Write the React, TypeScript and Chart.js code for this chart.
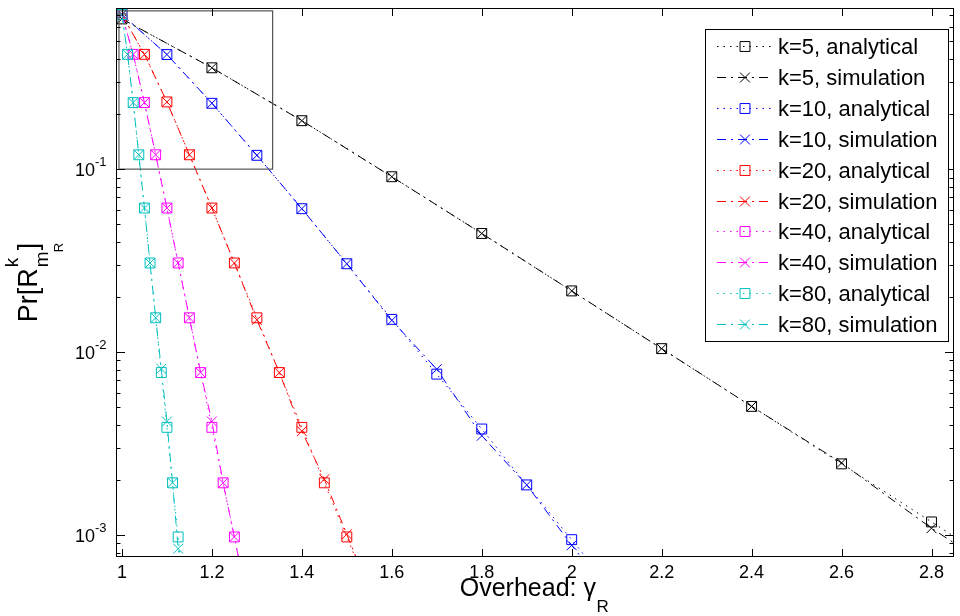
import React, { useEffect, useRef } from 'react';
import { Chart, registerables } from 'chart.js';

Chart.register(...registerables);

const FONT = '"Liberation Sans", Arial, Helvetica, sans-serif';

// Overhead values (gamma = m / k) and decoding-failure probabilities per k
const gammaK5 = [1.0, 1.2, 1.4, 1.6, 1.8, 2.0, 2.2, 2.4, 2.6, 2.8, 3.0];
const analyticalK5 = [0.662, 0.358, 0.184, 0.0909, 0.0445, 0.0216, 0.01045, 0.00505, 0.00245, 0.00118, 0.00057];
const simulationK5 = [0.662, 0.358, 0.184, 0.0909, 0.0445, 0.0216, 0.01045, 0.00505, 0.00248, 0.00109, 0.00052];

const gammaK10 = [1.0, 1.1, 1.2, 1.3, 1.4, 1.5, 1.6, 1.7, 1.8, 1.9, 2.0, 2.1];
const analyticalK10 = [0.70, 0.423, 0.229, 0.119, 0.0608, 0.0304, 0.0151, 0.00758, 0.0038, 0.00188, 0.000944, 0.00047];
const simulationK10 = [0.70, 0.423, 0.229, 0.119, 0.0608, 0.0304, 0.0149, 0.00807, 0.00349, 0.00188, 0.00088, 0.00043];

const gammaK20 = [1.0, 1.05, 1.1, 1.15, 1.2, 1.25, 1.3, 1.35, 1.4, 1.45, 1.5, 1.55];
const analyticalK20 = [0.70, 0.424, 0.233, 0.1198, 0.0613, 0.0307, 0.0154, 0.00773, 0.00388, 0.00193, 0.000977, 0.00049];
const simulationK20 = [0.70, 0.424, 0.233, 0.1198, 0.0613, 0.0307, 0.0150, 0.00773, 0.0037, 0.00202, 0.00101, 0.0005];

const gammaK40 = [1.0, 1.025, 1.05, 1.075, 1.1, 1.125, 1.15, 1.175, 1.2, 1.225, 1.25, 1.275];
const analyticalK40 = [0.70, 0.424, 0.231, 0.1198, 0.0613, 0.0307, 0.0154, 0.00773, 0.00388, 0.00193, 0.000977, 0.00049];
const simulationK40 = [0.70, 0.424, 0.231, 0.1198, 0.0613, 0.0307, 0.0154, 0.00773, 0.00418, 0.00193, 0.000977, 0.00048];

const gammaK80 = [1.0, 1.0125, 1.025, 1.0375, 1.05, 1.0625, 1.075, 1.0875, 1.1, 1.1125, 1.125, 1.1375];
const analyticalK80 = [0.70, 0.424, 0.231, 0.1198, 0.0613, 0.0307, 0.0154, 0.00773, 0.00388, 0.00193, 0.000977, 0.00049];
const simulationK80 = [0.70, 0.424, 0.231, 0.1198, 0.0613, 0.0307, 0.0154, 0.0081, 0.00418, 0.00193, 0.000843, 0.0004];

const seriesList = [
  { k: 5, color: '#000000', gamma: gammaK5, analytical: analyticalK5, simulation: simulationK5 },
  { k: 10, color: '#0000ff', gamma: gammaK10, analytical: analyticalK10, simulation: simulationK10 },
  { k: 20, color: '#ff0000', gamma: gammaK20, analytical: analyticalK20, simulation: simulationK20 },
  { k: 40, color: '#ff00ff', gamma: gammaK40, analytical: analyticalK40, simulation: simulationK40 },
  { k: 80, color: '#00bfbf', gamma: gammaK80, analytical: analyticalK80, simulation: simulationK80 },
];

// Axes
const X_MIN = 0.9868;
const X_MAX = 2.85;
const Y_MIN = 0.000759;
const Y_MAX = 0.7597;
const xTickValues = [1, 1.2, 1.4, 1.6, 1.8, 2, 2.2, 2.4, 2.6, 2.8];
const xTickLabels = ['1', '1.2', '1.4', '1.6', '1.8', '2', '2.2', '2.4', '2.6', '2.8'];
const yMajorTicks = [1e-3, 1e-2, 1e-1];
const yTickExponents = ['-3', '-2', '-1'];
const yMinorTicks = [
  8e-4, 9e-4,
  2e-3, 3e-3, 4e-3, 5e-3, 6e-3, 7e-3, 8e-3, 9e-3,
  2e-2, 3e-2, 4e-2, 5e-2, 6e-2, 7e-2, 8e-2, 9e-2,
  2e-1, 3e-1, 4e-1, 5e-1, 6e-1, 7e-1,
];

// Magnified region outline (data coordinates)
const zoomBoxX = [0.9934, 1.335];
const zoomBoxY = [0.1, 0.733];

const ANALYTICAL_DASH = [1.5, 5];
const SIMULATION_DASH = [9, 5, 2, 5];

function buildDatasets() {
  const out: any[] = [];
  seriesList.forEach((s) => {
    out.push({
      label: `k=${s.k}, analytical`,
      data: s.gamma.map((g, i) => ({ x: g, y: s.analytical[i] })),
      borderColor: s.color,
      borderWidth: 1,
      borderDash: ANALYTICAL_DASH,
      pointStyle: 'rect',
      pointRadius: 7,
      pointBorderWidth: 1,
      pointBorderColor: s.color,
      pointBackgroundColor: 'rgba(0,0,0,0)',
      fill: false,
      tension: 0,
      clip: 0,
    });
    out.push({
      label: `k=${s.k}, simulation`,
      data: s.gamma.map((g, i) => ({ x: g, y: s.simulation[i] })),
      borderColor: s.color,
      borderWidth: 1,
      borderDash: SIMULATION_DASH,
      pointStyle: 'crossRot',
      pointRadius: 7,
      pointBorderWidth: 1,
      pointBorderColor: s.color,
      pointBackgroundColor: 'rgba(0,0,0,0)',
      fill: false,
      tension: 0,
      clip: 0,
    });
  });
  const n = out.length;
  out.forEach((d, i) => { d.order = n - 1 - i; });
  return out;
}

function drawMarker(ctx: CanvasRenderingContext2D, style: string, x: number, y: number, r: number) {
  const h = r * Math.SQRT1_2;
  ctx.beginPath();
  if (style === 'rect') {
    ctx.rect(x - h, y - h, 2 * h, 2 * h);
  } else {
    ctx.moveTo(x - h, y - h);
    ctx.lineTo(x + h, y + h);
    ctx.moveTo(x + h, y - h);
    ctx.lineTo(x - h, y + h);
  }
  ctx.stroke();
}

const decorations = {
  id: 'decorations',
  afterDraw(chart: any) {
    const { ctx, chartArea: a, scales } = chart;
    const xs = scales.x;
    const ys = scales.y;
    ctx.save();

    // magnified-region outline
    const bx0 = xs.getPixelForValue(zoomBoxX[0]);
    const bx1 = xs.getPixelForValue(zoomBoxX[1]);
    const by0 = ys.getPixelForValue(zoomBoxY[1]);
    const by1 = ys.getPixelForValue(zoomBoxY[0]);
    ctx.strokeStyle = '#555555';
    ctx.lineWidth = 1.2;
    ctx.setLineDash([]);
    ctx.strokeRect(bx0, by0, bx1 - bx0, by1 - by0);

    // axes frame
    ctx.strokeStyle = '#000000';
    ctx.lineWidth = 1;
    ctx.strokeRect(a.left + 0.5, a.top + 0.5, a.right - a.left - 1, a.bottom - a.top - 1);

    // inward tick marks
    ctx.beginPath();
    xTickValues.forEach((v) => {
      const px = Math.round(xs.getPixelForValue(v)) + 0.5;
      ctx.moveTo(px, a.bottom);
      ctx.lineTo(px, a.bottom - 8);
      ctx.moveTo(px, a.top);
      ctx.lineTo(px, a.top + 8);
    });
    yMajorTicks.forEach((v) => {
      const py = Math.round(ys.getPixelForValue(v)) + 0.5;
      ctx.moveTo(a.left, py);
      ctx.lineTo(a.left + 9, py);
      ctx.moveTo(a.right, py);
      ctx.lineTo(a.right - 9, py);
    });
    yMinorTicks.forEach((v) => {
      const py = Math.round(ys.getPixelForValue(v)) + 0.5;
      ctx.moveTo(a.left, py);
      ctx.lineTo(a.left + 4.5, py);
      ctx.moveTo(a.right, py);
      ctx.lineTo(a.right - 4.5, py);
    });
    ctx.stroke();

    // y tick labels: 10 with raised exponent
    ctx.fillStyle = '#000000';
    ctx.textAlign = 'left';
    ctx.textBaseline = 'alphabetic';
    yMajorTicks.forEach((v, i) => {
      const py = ys.getPixelForValue(v);
      const xr = a.left - 9.5;
      ctx.font = `13px ${FONT}`;
      const ew = ctx.measureText(yTickExponents[i]).width;
      ctx.fillText(yTickExponents[i], xr - ew, py - 3);
      ctx.font = `18px ${FONT}`;
      const bw = ctx.measureText('10').width;
      ctx.fillText('10', xr - ew - bw, py + 6.5);
    });

    // x axis title: Overhead: gamma_R
    ctx.font = `25px ${FONT}`;
    const xMain = 'Overhead: γ';
    const w1 = ctx.measureText(xMain).width;
    ctx.font = `17px ${FONT}`;
    const w2 = ctx.measureText('R').width;
    const cx = (a.left + a.right) / 2 - 1;
    const sx = cx - (w1 + w2) / 2;
    ctx.font = `25px ${FONT}`;
    ctx.fillText(xMain, sx, 596);
    ctx.font = `17px ${FONT}`;
    ctx.fillText('R', sx + w1 + 0.5, 612);

    // y axis title: Pr[R^k_{m_R}], rotated
    ctx.font = `27px ${FONT}`;
    const tMain = ctx.measureText('Pr[R').width;
    const tBr = ctx.measureText(']').width;
    ctx.font = `19px ${FONT}`;
    const tk = ctx.measureText('k').width;
    const tm = ctx.measureText('m').width;
    const t1 = tMain + 1;
    const tBracket = t1 + Math.max(tk, tm) + 1;
    const total = tBracket + tBr;
    const cy = (a.top + a.bottom) / 2;
    ctx.save();
    ctx.translate(37, cy + total / 2);
    ctx.rotate(-Math.PI / 2);
    ctx.font = `27px ${FONT}`;
    ctx.fillText('Pr[R', 0, 0);
    ctx.font = `19px ${FONT}`;
    ctx.fillText('k', t1, -19);
    ctx.fillText('m', t1, 11);
    ctx.font = `13px ${FONT}`;
    ctx.fillText('R', t1 + tm - 1, 26);
    ctx.font = `27px ${FONT}`;
    ctx.fillText(']', tBracket, 0);
    ctx.restore();

    // legend
    const lx0 = 705;
    const lx1 = a.right - 5;
    const ly0 = a.top + 21;
    const ly1 = 342;
    ctx.fillStyle = '#ffffff';
    ctx.fillRect(lx0, ly0, lx1 - lx0, ly1 - ly0);
    ctx.strokeStyle = '#000000';
    ctx.lineWidth = 1;
    ctx.strokeRect(lx0 + 0.5, ly0 + 0.5, lx1 - lx0 - 1, ly1 - ly0 - 1);
    const rowStep = 30.9;
    const row0 = 46;
    ctx.font = `22px ${FONT}`;
    ctx.textBaseline = 'middle';
    chart.data.datasets.forEach((ds: any, i: number) => {
      const ry = Math.round(row0 + i * rowStep) + 0.5;
      ctx.strokeStyle = ds.borderColor;
      ctx.lineWidth = 1;
      ctx.setLineDash(ds.borderDash);
      ctx.beginPath();
      ctx.moveTo(717, ry);
      ctx.lineTo(771, ry);
      ctx.stroke();
      ctx.setLineDash([]);
      drawMarker(ctx, ds.pointStyle, 745, ry, 7);
      ctx.fillStyle = '#000000';
      ctx.fillText(ds.label, 778, ry + 1);
    });

    ctx.restore();
  },
};

export default function App() {
  const ref = useRef<HTMLCanvasElement>(null);
  useEffect(() => {
    const canvas = ref.current;
    if (!canvas) return;
    const chart = new Chart(canvas, {
      type: 'line',
      data: { datasets: buildDatasets() },
      options: {
        responsive: false,
        animation: false,
        devicePixelRatio: 1,
        events: [],
        layout: { padding: { left: 116, top: 6, right: 1, bottom: 0 } },
        plugins: { legend: { display: false }, tooltip: { enabled: false } },
        scales: {
          x: {
            type: 'linear',
            min: X_MIN,
            max: X_MAX,
            bounds: 'data',
            grid: { display: false, drawTicks: false },
            border: { display: false },
            afterBuildTicks: (s: any) => {
              s.ticks = xTickValues.map((v) => ({ value: v }));
            },
            afterFit: (s: any) => {
              s.height = 59;
            },
            ticks: {
              autoSkip: false,
              maxRotation: 0,
              minRotation: 0,
              padding: 5,
              color: '#000000',
              font: { size: 18, family: FONT },
              callback: (_v: any, i: number) => xTickLabels[i],
            },
          },
          y: {
            type: 'logarithmic',
            min: Y_MIN,
            max: Y_MAX,
            bounds: 'data',
            display: false,
          },
        },
      } as any,
      plugins: [decorations],
    });
    return () => chart.destroy();
  }, []);
  return (
    <div style={{ position: 'absolute', left: 0, top: 0, width: 960, height: 616, overflow: 'hidden', background: '#ffffff' }}>
      <canvas ref={ref} width={962} height={616} style={{ display: 'block', width: 962, height: 616 }} />
    </div>
  );
}
